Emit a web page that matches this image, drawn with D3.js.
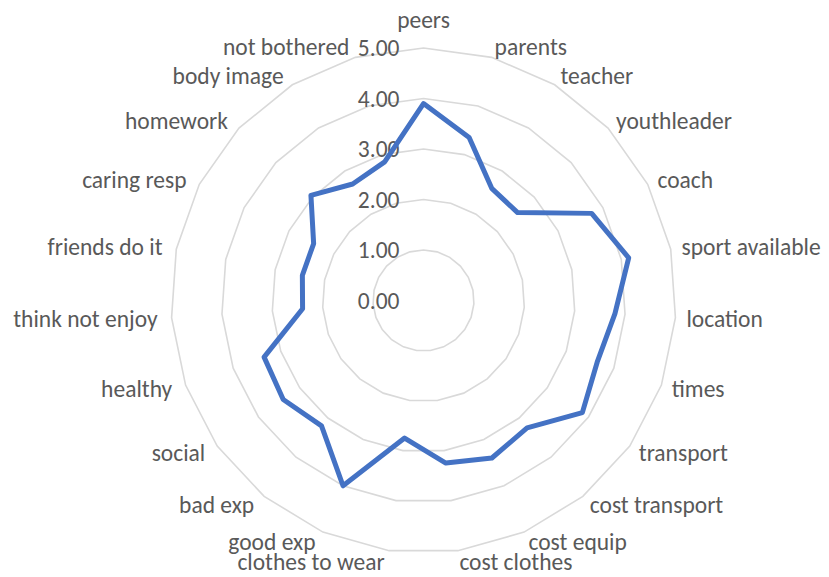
<!DOCTYPE html>
<html>
<head>
<meta charset="utf-8">
<script src="https://cdn.jsdelivr.net/npm/d3@7"></script>
<style>
  html, body { margin: 0; padding: 0; background: #fff; }
  svg { display: block; }
  text { font-family: Carlito, Lato, "Open Sans", sans-serif; fill: #595959; }
</style>
</head>
<body>
<svg id="chart" width="829" height="577"></svg>
<script>
// Categories around the radar, clockwise from the top
const categories = [
  "peers", "parents", "teacher", "youthleader", "coach", "sport available",
  "location", "times", "transport", "cost transport", "cost equip",
  "cost clothes", "clothes to wear", "good exp", "bad exp", "social",
  "healthy", "think not enjoy", "friends do it", "caring resp", "homework",
  "body image", "not bothered"
];

// Mean score per category
const scores = [
  3.90, 3.35, 2.60, 2.55, 3.75, 4.15,
  3.80, 3.65, 3.85, 3.25, 3.40,
  3.25, 2.75, 4.00, 3.20, 3.40,
  3.35, 2.40, 2.45, 2.45, 3.05,
  2.70, 2.85
];

// Value axis ticks
const tickValues = [0, 1, 2, 3, 4, 5];

const width = 829, height = 577;
const cx = 423.5, cy = 300.5, outerR = 252.5;
const fontSize = 23.5;

const svg = d3.select("#chart");
const g = svg.append("g").attr("transform", `translate(${cx},${cy})`);

const r = d3.scaleLinear().domain([0, 5]).range([0, outerR]);
const step = 2 * Math.PI / categories.length;
const angle = i => i * step;

// Concentric polygon gridlines
const ringLine = d3.lineRadial()
  .angle((d, i) => angle(i))
  .radius(d => r(d))
  .curve(d3.curveLinearClosed);

g.append("g").attr("class", "grid")
  .selectAll("path")
  .data(tickValues.filter(v => v > 0))
  .join("path")
  .attr("d", v => ringLine(categories.map(() => v)))
  .attr("fill", "none")
  .attr("stroke", "#d9d9d9")
  .attr("stroke-width", 1.6);

// Value axis labels, right-aligned just left of the vertical axis
const fmt = d3.format(".2f");
g.append("g").attr("class", "value-labels")
  .selectAll("text")
  .data(tickValues)
  .join("text")
  .attr("x", -24)
  .attr("y", v => -r(v))
  .attr("dy", "0.35em")
  .attr("text-anchor", "end")
  .attr("font-size", fontSize)
  .text(v => fmt(v));

// Series line
const seriesLine = d3.lineRadial()
  .angle((d, i) => angle(i))
  .radius(d => r(d))
  .curve(d3.curveLinearClosed);

g.append("path")
  .datum(scores)
  .attr("d", seriesLine)
  .attr("fill", "none")
  .attr("stroke", "#4472C4")
  .attr("stroke-width", 5)
  .attr("stroke-linejoin", "round");

// Category labels outside the outer ring
const labelGap = 11;
g.append("g").attr("class", "category-labels")
  .selectAll("text")
  .data(categories)
  .join("text")
  .each(function (d, i) {
    const a = angle(i);
    const s = Math.sin(a), c = Math.cos(a);
    let x = (outerR + labelGap) * s;
    let y = -(outerR + labelGap) * c;
    let anchor = "middle";
    if (s > 0.05) anchor = "start";
    else if (s < -0.05) { anchor = "end"; x -= 3; }
    else y -= c * 17;
    d3.select(this)
      .attr("x", x)
      .attr("y", y)
      .attr("dy", "0.35em")
      .attr("text-anchor", anchor)
      .attr("font-size", fontSize)
      .text(d);
  });
</script>
</body>
</html>
